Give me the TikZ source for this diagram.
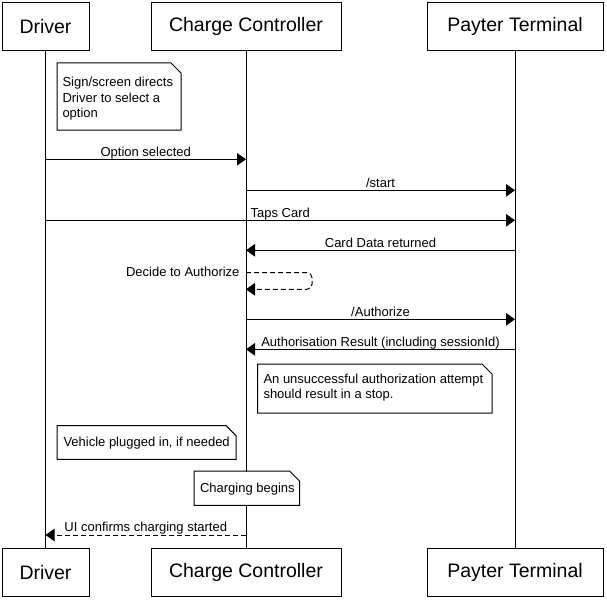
\documentclass[tikz,border=0pt]{standalone}
\usepackage{fontspec}
\setmainfont{Liberation Sans}
\usetikzlibrary{arrows.meta}
\begin{document}
\begin{tikzpicture}[x=1pt,y=-1pt, line width=1pt,
 actor/.style={draw, fill=white, minimum height=48pt, inner sep=0pt, font=\fontsize{19.5}{23}\selectfont},
 msg/.style={-{Triangle[length=9pt,width=12.5pt]}},
 reply/.style={msg, dash pattern=on 5pt off 3pt},
 lbl/.style={font=\fontsize{13}{15.5}\selectfont, text height=9.5pt, text depth=2.5pt, inner sep=0pt},
 notebg/.style={fill=white, draw=none, inner sep=0pt, anchor=north west},
 notetxt/.style={font=\fontsize{13}{15.5}\selectfont, align=left, anchor=west, inner sep=0pt}]
\useasboundingbox (0,0) rectangle (607,599);

% actors
\node[actor, minimum width=87pt] (d) at (45.5,26.8) {Driver};
\node[actor, minimum width=190pt] (c) at (246,26.8) {Charge Controller};
\node[actor, minimum width=176pt] (p) at (515,26.8) {Payter Terminal};
\node[actor, minimum width=87pt] (d2) at (45.5,572.5) {Driver};
\node[actor, minimum width=190pt] (c2) at (246,572.5) {Charge Controller};
\node[actor, minimum width=176pt] (p2) at (515,572.5) {Payter Terminal};

% lifelines
\draw (d) -- (d2);
\draw (c) -- (c2);
\draw (p) -- (p2);

% message anchors
\coordinate (d1) at (45.5,159.3);  \coordinate (c1) at (246,159.3);
\coordinate (c2a) at (246,190.3);  \coordinate (p2a) at (515,190.3);
\coordinate (d3) at (45.5,220.3);  \coordinate (p3) at (515,220.3);
\coordinate (p4) at (515,250.3);   \coordinate (c4) at (246,250.3);
\coordinate (c5) at (246,272.7);   \coordinate (c6) at (246,289.3);
\coordinate (c7) at (246,319.3);   \coordinate (p7) at (515,319.3);
\coordinate (p8) at (515,349.3);   \coordinate (c8) at (246,349.3);
\coordinate (c9) at (246,535);     \coordinate (d9) at (45.5,535);

\draw[msg] (d1) -- node[lbl, midway, yshift=6.7pt] {Option selected} (c1);
\draw[msg] (c2a) -- node[lbl, midway, yshift=6.7pt] {/start} (p2a);
\draw[msg] (d3) -- node[lbl, midway, yshift=6.7pt] {Taps Card} (p3);
\draw[msg] (p4) -- node[lbl, midway, yshift=6.7pt] {Card Data returned} (c4);
\draw[reply, rounded corners=5pt] (c5) -- ++(66,0) -- ++(0,16.6) -- (c6);
\node[lbl, anchor=east] (l5) at (240,272.7) {Decide to Authorize};
\draw[msg] (c7) -- node[lbl, midway, yshift=6.7pt] {/Authorize} (p7);
\draw[msg] (p8) -- node[lbl, midway, yshift=6.7pt] {Authorisation Result (including sessionId)} (c8);
\draw[reply] (c9) -- node[lbl, midway, yshift=6.7pt] {UI confirms charging started} (d9);

% notes
\node[notebg, minimum width=123pt, minimum height=66pt] (n1) at (57,63) {};
\draw (n1.north west) -- ([xshift=-10pt]n1.north east) -- ([yshift=-10pt]n1.north east) -- (n1.south east) -- (n1.south west) -- cycle;
\node[notetxt] (t1) at ([xshift=5pt,yshift=-2.5pt]n1.west) {Sign/screen directs\\Driver to select a\\option};

\node[notebg, minimum width=233.5pt, minimum height=48pt] (n2) at (257.5,364) {};
\draw (n2.north west) -- ([xshift=-10pt]n2.north east) -- ([yshift=-10pt]n2.north east) -- (n2.south east) -- (n2.south west) -- cycle;
\node[notetxt] (t2) at ([xshift=5.5pt,yshift=1pt]n2.west) {An unsuccessful authorization attempt\\should result in a stop.};

\node[notebg, minimum width=178pt, minimum height=32.6pt] (n3) at (57,425.7) {};
\draw (n3.north west) -- ([xshift=-10pt]n3.north east) -- ([yshift=-10pt]n3.north east) -- (n3.south east) -- (n3.south west) -- cycle;
\node[notetxt] (t3) at ([xshift=6pt,yshift=-0.7pt]n3.west) {Vehicle plugged in, if needed};

\node[notebg, minimum width=104.5pt, minimum height=33.3pt] (n4) at (194,471) {};
\draw (n4.north west) -- ([xshift=-10pt]n4.north east) -- ([yshift=-10pt]n4.north east) -- (n4.south east) -- (n4.south west) -- cycle;
\node[notetxt] (t4) at ([xshift=5.5pt,yshift=-1pt]n4.west) {Charging begins};
\end{tikzpicture}
\end{document}
